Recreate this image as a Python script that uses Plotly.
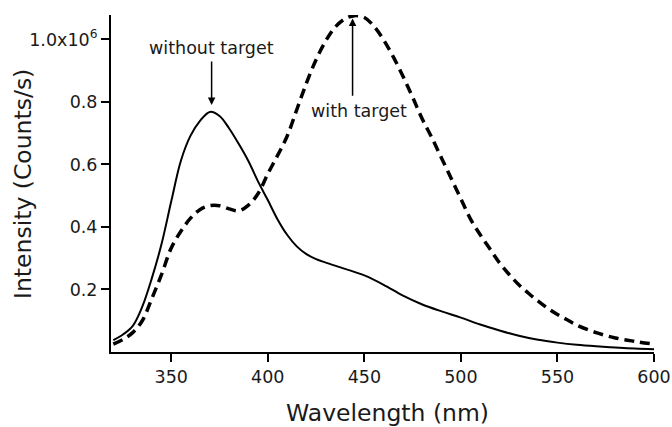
import plotly.graph_objects as go

wl_without = [320, 325, 330, 335, 340, 345, 350, 355, 360, 365, 370, 375, 380, 385, 390, 395, 400,
              405, 410, 415, 420, 425, 430, 440, 450, 460, 470, 480, 490, 500, 510, 520, 530, 540,
              550, 560, 570, 580, 590, 600]
int_without = [0.038, 0.056, 0.083, 0.145, 0.237, 0.346, 0.482, 0.612, 0.692, 0.74, 0.768, 0.755,
               0.715, 0.665, 0.61, 0.545, 0.486, 0.425, 0.375, 0.338, 0.313, 0.297, 0.286, 0.266,
               0.245, 0.215, 0.18, 0.152, 0.13, 0.11, 0.088, 0.069, 0.052, 0.039, 0.03, 0.023,
               0.018, 0.014, 0.011, 0.009]

wl_with = [320, 325, 330, 335, 340, 345, 350, 355, 360, 365, 370, 375, 380, 385, 390, 395, 400,
           405, 410, 415, 420, 425, 430, 435, 440, 445, 450, 455, 460, 465, 470, 475, 480, 485,
           490, 495, 500, 505, 510, 515, 520, 525, 530, 535, 540, 545, 550, 555, 560, 570, 580,
           590, 600]
int_with = [0.025, 0.04, 0.062, 0.1, 0.172, 0.248, 0.333, 0.386, 0.428, 0.456, 0.468, 0.468,
            0.458, 0.452, 0.47, 0.507, 0.57, 0.628, 0.69, 0.775, 0.86, 0.935, 0.995, 1.04, 1.066,
            1.076, 1.07, 1.042, 0.998, 0.944, 0.882, 0.815, 0.745, 0.685, 0.62, 0.555, 0.49,
            0.425, 0.375, 0.33, 0.285, 0.248, 0.215, 0.188, 0.163, 0.14, 0.12, 0.103, 0.086,
            0.062, 0.045, 0.034, 0.025]

x_ticks = [350, 400, 450, 500, 550, 600]
y_ticks = [0.2e6, 0.4e6, 0.6e6, 0.8e6, 1.0e6]
y_tick_labels = ["0.2", "0.4", "0.6", "0.8", "1.0x10<sup>6</sup>"]

FONT = "DejaVu Sans"
TXT = "#1a1a1a"

fig = go.Figure()
fig.add_trace(go.Scatter(x=wl_without, y=[v * 1e6 for v in int_without], mode="lines",
                         line=dict(color="black", width=2, shape="spline"), showlegend=False))
fig.add_trace(go.Scatter(x=wl_with, y=[v * 1e6 for v in int_with], mode="lines",
                         line=dict(color="black", width=3.5, dash="10px,6px", shape="spline"),
                         showlegend=False))

fig.add_annotation(x=370.9, y=0.79e6, ax=370.9, ay=0.934e6, axref="x", ayref="y",
                   xref="x", yref="y", text="", showarrow=True, arrowhead=2,
                   arrowsize=1, arrowwidth=1.5, arrowcolor="black")
fig.add_annotation(x=443.9, y=1.067e6, ax=443.9, ay=0.815e6, axref="x", ayref="y",
                   xref="x", yref="y", text="", showarrow=True, arrowhead=2,
                   arrowsize=1, arrowwidth=1.5, arrowcolor="black")
fig.add_annotation(x=370.6, y=0.971e6, xref="x", yref="y", text="without target",
                   showarrow=False, font=dict(family=FONT, size=17.5, color=TXT))
fig.add_annotation(x=447, y=0.77e6, xref="x", yref="y", text="with target",
                   showarrow=False, font=dict(family=FONT, size=17.5, color=TXT))

# axis titles
fig.add_annotation(x=0.510, y=-0.181, xref="paper", yref="paper", text="Wavelength (nm)",
                   showarrow=False, xanchor="center", yanchor="middle", borderpad=0,
                   font=dict(family=FONT, size=23.5, color=TXT))
fig.add_annotation(x=-0.163, y=0.5, xref="paper", yref="paper", text="Intensity (Counts/s)",
                   showarrow=False, xanchor="center", yanchor="middle", textangle=-90,
                   font=dict(family=FONT, size=23.5, color=TXT))

fig.update_layout(
    width=672, height=427,
    margin=dict(l=111, r=18, t=15, b=75),
    paper_bgcolor="white", plot_bgcolor="white",
    font=dict(family=FONT, color=TXT),
    xaxis=dict(range=[318.8, 600], tickvals=x_ticks, ticks="outside", ticklen=8,
               tickwidth=1.5, tickcolor="black", showline=True, linecolor="black",
               linewidth=2, showgrid=False, zeroline=False, automargin=False,
               tickfont=dict(family=FONT, size=17.5, color=TXT)),
    yaxis=dict(range=[0, 1.078e6], tickvals=y_ticks, ticktext=y_tick_labels, ticks="outside",
               ticklen=8, tickwidth=1.5, tickcolor="black", showline=True, linecolor="black",
               linewidth=2, showgrid=False, zeroline=False, automargin=False,
               tickfont=dict(family=FONT, size=17.5, color=TXT)),
)

fig.write_html("out.html")
